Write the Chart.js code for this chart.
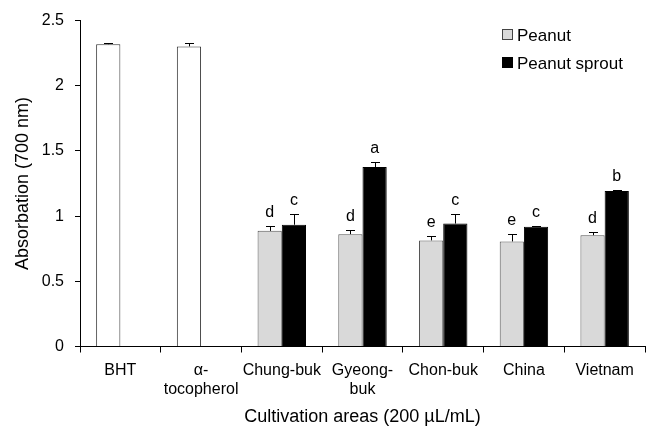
<!DOCTYPE html>
<html>
<head>
<meta charset="utf-8">
<script src="https://cdn.jsdelivr.net/npm/chart.js@4/dist/chart.umd.min.js"></script>
<style>
  html, body { margin: 0; padding: 0; background: #fff; }
  #chart { display: block; }
</style>
</head>
<body>
<canvas id="chart" width="649" height="436"></canvas>
<script>
/* absorbance at 700 nm, peanut vs peanut sprout by cultivation area */

const categories   = ['BHT', ['α-', 'tocopherol'], 'Chung-buk', ['Gyeong-', 'buk'], 'Chon-buk', 'China', 'Vietnam'];
const isStandard   = [true, true, false, false, false, false, false];

const peanut       = [2.319, 2.302, 0.887, 0.862, 0.814, 0.806, 0.854];
const peanutErr    = [0.010, 0.027, 0.040, 0.033, 0.036, 0.059, 0.026];
const peanutLetter = ['', '', 'd', 'd', 'e', 'e', 'd'];

const sprout       = [0, 0, 0.934, 1.376, 0.943, 0.918, 1.192];
const sproutErr    = [0, 0, 0.084, 0.043, 0.076, 0.010, 0.005];
const sproutLetter = ['', '', 'c', 'a', 'c', 'c', 'b'];

const yTicks = [0, 0.5, 1, 1.5, 2, 2.5];

const FONT = "'Liberation Sans', Arial, Helvetica, sans-serif";
const GRAY = '#d9d9d9';

const errors  = [peanutErr, sproutErr];
const letters = [peanutLetter, sproutLetter];

// error bars (upper half only) + significance letters
const errorBarPlugin = {
  id: 'errorBars',
  afterDatasetsDraw(chart) {
    const { ctx } = chart;
    const yScale = chart.scales.y;
    chart.data.datasets.forEach((ds, di) => {
      const meta = chart.getDatasetMeta(di);
      meta.data.forEach((bar, i) => {
        const v = ds.data[i];
        const e = errors[di][i];
        const top = yScale.getPixelForValue(v + e);
        ctx.save();
        if (e > 0) {
          ctx.strokeStyle = '#000';
          ctx.lineWidth = 1;
          ctx.beginPath();
          ctx.moveTo(Math.round(bar.x) + 0.5, bar.y);
          ctx.lineTo(Math.round(bar.x) + 0.5, Math.round(top) + 0.5);
          ctx.moveTo(Math.round(bar.x) - 4, Math.round(top) + 0.5);
          ctx.lineTo(Math.round(bar.x) + 5, Math.round(top) + 0.5);
          ctx.stroke();
        }
        const txt = letters[di][i];
        if (txt) {
          ctx.fillStyle = '#000';
          ctx.font = '16px ' + FONT;
          ctx.textAlign = 'center';
          ctx.textBaseline = 'alphabetic';
          ctx.fillText(txt, bar.x, top - 9);
        }
        ctx.restore();
      });
    });
  }
};

// legend box in the top right corner of the plot
const legendPlugin = {
  id: 'cornerLegend',
  afterDraw(chart) {
    const { ctx } = chart;
    const x = 502, y0 = 29, step = 27.5;
    const items = [
      { text: 'Peanut', fill: GRAY, stroke: '#444' },
      { text: 'Peanut sprout', fill: '#000', stroke: '#000' }
    ];
    ctx.save();
    ctx.font = '17px ' + FONT;
    ctx.textBaseline = 'alphabetic';
    ctx.textAlign = 'left';
    items.forEach((it, k) => {
      const y = Math.round(y0 + k * step);
      ctx.fillStyle = it.fill;
      ctx.fillRect(x, y, 10, 10);
      ctx.strokeStyle = it.stroke;
      ctx.lineWidth = 1;
      ctx.strokeRect(x + 0.5, y + 0.5, 10, 10);
      ctx.fillStyle = '#000';
      ctx.fillText(it.text, x + 15, y + 12);
    });
    ctx.restore();
  }
};

new Chart(document.getElementById('chart'), {
  type: 'bar',
  data: {
    labels: categories,
    datasets: [
      {
        label: 'Peanut',
        data: peanut,
        backgroundColor: isStandard.map(s => s ? '#fff' : GRAY),
        borderColor: isStandard.map(s => s ? '#333' : '#555'),
        borderWidth: 1,
        borderSkipped: 'bottom'
      },
      {
        label: 'Peanut sprout',
        data: sprout,
        backgroundColor: '#000',
        borderColor: '#000',
        borderWidth: 1,
        borderSkipped: 'bottom'
      }
    ]
  },
  options: {
    responsive: false,
    animation: false,
    devicePixelRatio: 1,
    categoryPercentage: 0.6,
    barPercentage: 1.0,
    layout: { padding: { top: 17, right: 4, left: 0, bottom: 0 } },
    plugins: {
      legend: { display: false },
      tooltip: { enabled: false }
    },
    scales: {
      x: {
        offset: true,
        afterFit: s => { s.height = 89.5; },
        border: { color: '#000', width: 1 },
        grid: { offset: true, drawOnChartArea: false, tickLength: 6, color: '#000' },
        ticks: {
          color: '#000',
          font: { family: FONT, size: 16 },
          maxRotation: 0,
          autoSkip: false,
          padding: 8
        },
        title: {
          display: true,
          text: 'Cultivation areas (200 µL/mL)',
          color: '#000',
          font: { family: FONT, size: 18 },
          padding: { top: 0, bottom: 8 }
        }
      },
      y: {
        min: 0,
        max: 2.5,
        afterFit: s => { s.width = 80; },
        afterBuildTicks: s => { s.ticks = yTicks.map(v => ({ value: v })); },
        border: { color: '#000', width: 1 },
        grid: { drawOnChartArea: false, tickLength: 5, color: '#000' },
        ticks: {
          color: '#000',
          font: { family: FONT, size: 16 },
          padding: 11,
          callback: v => String(v)
        },
        title: {
          display: true,
          text: 'Absorbation (700 nm)',
          color: '#000',
          font: { family: FONT, size: 18 },
          padding: { top: 12, bottom: 0 }
        }
      }
    }
  },
  plugins: [errorBarPlugin, legendPlugin]
});
</script>
</body>
</html>
